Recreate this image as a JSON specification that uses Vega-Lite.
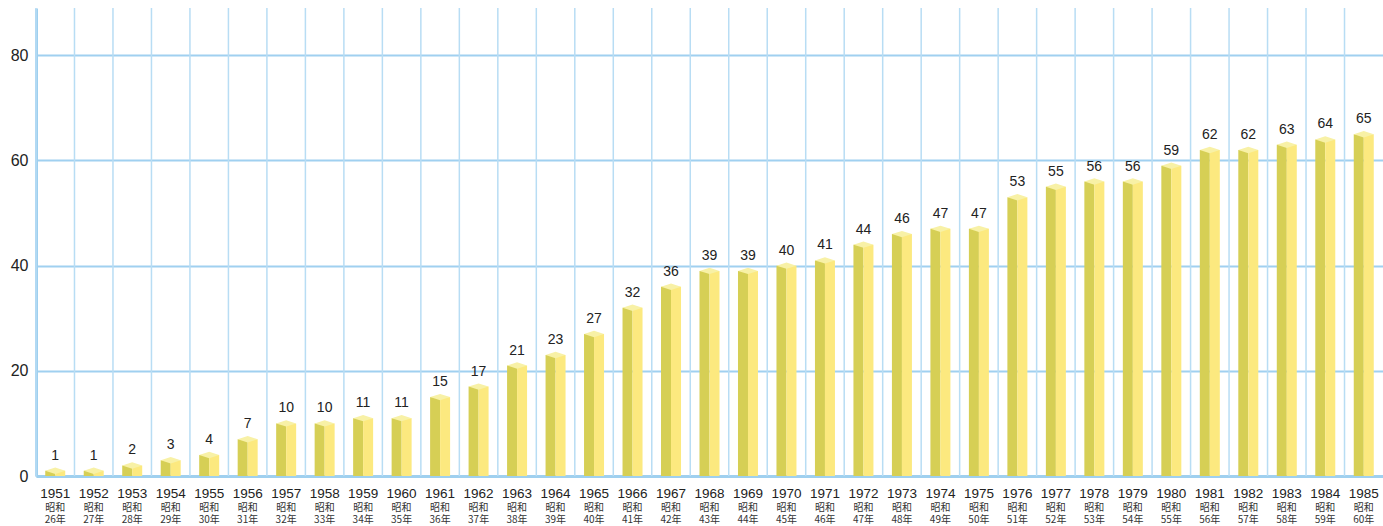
{
  "$schema": "https://vega.github.io/schema/vega-lite/v6.json",
  "width": 1347,
  "height": 468,
  "autosize": {"type": "none"},
  "padding": {"left": 36, "top": 8, "right": 0, "bottom": 50},
  "background": "white",
  "config": {"view": {"stroke": null}},
  "data": {"values": [
    {"year": "1951", "value": 1}, {"year": "1952", "value": 1}, {"year": "1953", "value": 2},
    {"year": "1954", "value": 3}, {"year": "1955", "value": 4}, {"year": "1956", "value": 7},
    {"year": "1957", "value": 10}, {"year": "1958", "value": 10}, {"year": "1959", "value": 11},
    {"year": "1960", "value": 11}, {"year": "1961", "value": 15}, {"year": "1962", "value": 17},
    {"year": "1963", "value": 21}, {"year": "1964", "value": 23}, {"year": "1965", "value": 27},
    {"year": "1966", "value": 32}, {"year": "1967", "value": 36}, {"year": "1968", "value": 39},
    {"year": "1969", "value": 39}, {"year": "1970", "value": 40}, {"year": "1971", "value": 41},
    {"year": "1972", "value": 44}, {"year": "1973", "value": 46}, {"year": "1974", "value": 47},
    {"year": "1975", "value": 47}, {"year": "1976", "value": 53}, {"year": "1977", "value": 55},
    {"year": "1978", "value": 56}, {"year": "1979", "value": 56}, {"year": "1980", "value": 59},
    {"year": "1981", "value": 62}, {"year": "1982", "value": 62}, {"year": "1983", "value": 63},
    {"year": "1984", "value": 64}, {"year": "1985", "value": 65}
  ]},
  "resolve": {"axis": {"x": "independent"}},
  "layer": [
    {
      "mark": {"type": "rule", "color": "#b8ddf4", "strokeWidth": 1.5},
      "encoding": {
        "x": {"field": "year", "type": "ordinal", "bandPosition": 0, "axis": null}
      }
    },
    {
      "mark": {"type": "bar", "width": 10, "xOffset": -5, "color": "#d6cf55"},
      "encoding": {
        "x": {"field": "year", "type": "ordinal",
          "scale": {"paddingInner": 0, "paddingOuter": 0},
          "axis": {"orient": "bottom", "title": null, "labelAngle": 0, "ticks": false, "grid": false,
            "domainColor": "#9fd0ef", "domainWidth": 3,
            "labelFont": "Liberation Sans", "labelFontSize": 13.5, "labelColor": "#222222",
            "labelPadding": 10, "labelBaseline": "top"}},
        "y": {"field": "value", "type": "quantitative",
          "scale": {"domain": [0, 89], "nice": false, "zero": true},
          "axis": {"title": null, "values": [0, 20, 40, 60, 80], "ticks": false,
            "domainColor": "#9fd0ef", "domainWidth": 3,
            "gridColor": "#a0d0f0", "gridWidth": 2.2, "gridOpacity": 1,
            "labelFont": "Liberation Sans", "labelFontSize": 16, "labelColor": "#222222",
            "labelPadding": 8}}
      }
    },
    {
      "mark": {"type": "bar", "width": 10, "xOffset": 5, "color": "#fce97f"},
      "encoding": {
        "x": {"field": "year", "type": "ordinal",
          "axis": {"orient": "bottom", "title": null, "labelAngle": 0, "ticks": false, "grid": false, "domain": false,
            "offset": 17, "labelPadding": 9, "labelBaseline": "top",
            "labelExpr": "['昭和', (toNumber(datum.value) - 1925) + '年']",
            "labelFont": "Noto Sans CJK JP", "labelFontSize": 10, "labelLineHeight": 12.5,
            "labelColor": "#333333"}},
        "y": {"field": "value", "type": "quantitative"}
      }
    },
    {
      "mark": {"type": "point", "shape": "M-1,0L0,-0.32L1,0L0,0.32Z", "size": 400,
        "filled": true, "color": "#f8f1a6", "opacity": 1},
      "encoding": {
        "x": {"field": "year", "type": "ordinal", "axis": null},
        "y": {"field": "value", "type": "quantitative"}
      }
    },
    {
      "mark": {"type": "text", "baseline": "bottom", "dy": -8, "fontSize": 14,
        "font": "Liberation Sans", "color": "#222222"},
      "encoding": {
        "x": {"field": "year", "type": "ordinal", "axis": null},
        "y": {"field": "value", "type": "quantitative"},
        "text": {"field": "value", "type": "quantitative"}
      }
    }
  ]
}
